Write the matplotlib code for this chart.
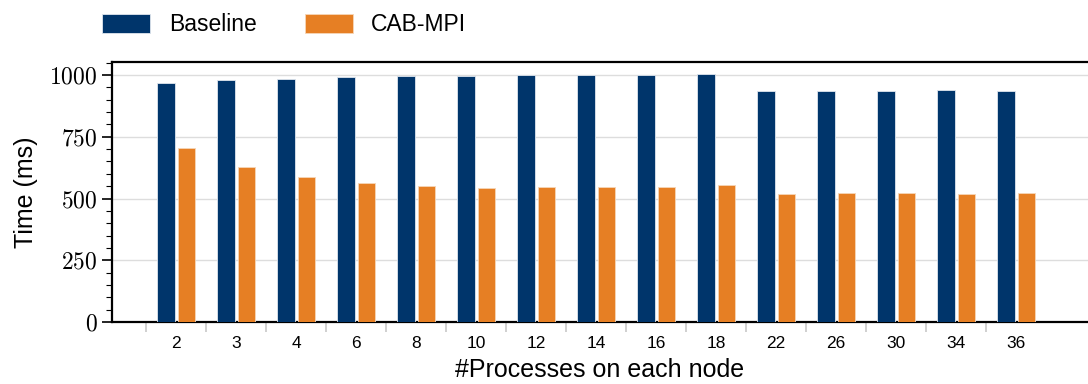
import numpy as np
import matplotlib
matplotlib.use("Agg")
import matplotlib.pyplot as plt
from matplotlib.ticker import MultipleLocator, FixedLocator, FuncFormatter

plt.rcParams['font.family'] = ['Liberation Sans', 'DejaVu Sans']
plt.rcParams['mathtext.fontset'] = 'cm'

# data
procs = ['2', '3', '4', '6', '8', '10', '12', '14', '16', '18', '22', '26', '30', '34', '36']
baseline = [968, 978, 984, 992, 997, 996, 1000, 1000, 1000, 1004, 935, 934, 934, 938, 936]
cab_mpi = [706, 626, 587, 563, 551, 543, 545, 547, 547, 553, 517, 521, 524, 520, 524]

navy = '#00356b'
orange = '#e67f24'

fig = plt.figure(figsize=(10.88, 3.84), dpi=100)
ax = fig.add_axes([0.103, 0.161, 0.897, 0.6775])

x = np.arange(len(procs))
w = 0.29
ax.bar(x - 0.17, baseline, w, color=navy, edgecolor='#dfe6ee', linewidth=0.6,
       label='Baseline', zorder=3)
ax.bar(x + 0.17, cab_mpi, w, color=orange, edgecolor='#f6d6b8', linewidth=0.6,
       label='CAB-MPI', zorder=3)

ax.set_xlim(-1.07, 15.2)
ax.set_ylim(0, 1052)

# y axis: serif numbers, minor ticks every 50
ax.yaxis.set_major_locator(MultipleLocator(250))
ax.yaxis.set_minor_locator(MultipleLocator(50))
ax.yaxis.set_major_formatter(FuncFormatter(lambda v, p: r'$%d$' % v))
ax.tick_params(axis='y', which='major', labelsize=17, length=7, width=1.2)
ax.tick_params(axis='y', which='minor', length=4, width=0.8)
ax.grid(axis='y', color='#dddddd', linewidth=1.0, zorder=0)

# x axis: gray separators between groups, labels at group centres
ax.xaxis.set_major_locator(FixedLocator(np.arange(len(procs)) - 0.5))
ax.xaxis.set_major_formatter(FuncFormatter(lambda v, p: ''))
ax.set_xticks(x, minor=True)
ax.set_xticklabels(procs, minor=True)
ax.tick_params(axis='x', which='major', length=7, width=1.2, color='#c8c8c8')
ax.tick_params(axis='x', which='minor', length=0, labelsize=12.5, pad=10)

for side in ['left', 'bottom', 'top']:
    ax.spines[side].set_linewidth(1.6)
ax.spines['right'].set_visible(False)

ax.set_xlabel('#Processes on each node', fontsize=18, labelpad=5)
ax.set_ylabel('Time (ms)', fontsize=18, labelpad=8)

fig.legend(loc='upper left', bbox_to_anchor=(0.075, 1.02), ncol=2, frameon=False,
           fontsize=16.5, handlelength=2.1, handleheight=0.9, handletextpad=0.8,
           columnspacing=2.1)

fig.savefig('out.png', dpi=100)
